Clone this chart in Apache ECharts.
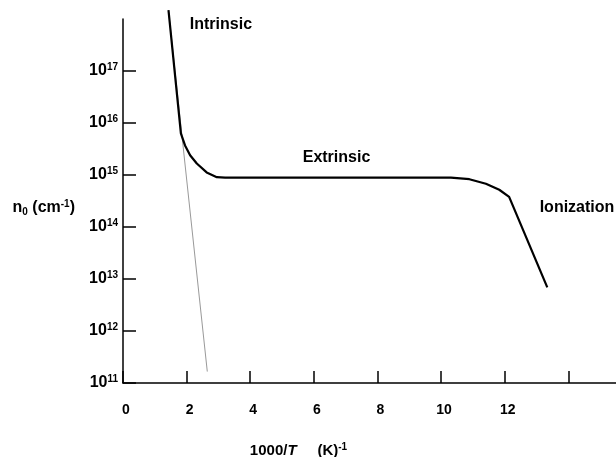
<!DOCTYPE html>
<html>
<head>
<meta charset="utf-8">
<script src="https://cdn.jsdelivr.net/npm/echarts@6/dist/echarts.min.js"></script>
<style>html,body{margin:0;padding:0;background:#fff}#c{width:616px;height:457px}</style>
</head>
<body>
<div id="c"></div>
<script>
// Main curve: 1000/T (K^-1) vs n0 (cm^-3)
const curveX = [1.43, 1.82, 1.95, 2.11, 2.32, 2.63, 2.95, 3.21, 10.31, 10.89, 11.41, 11.83, 12.14, 13.34];
const curveN = [1.48e18, 6.3e15, 3.7e15, 2.4e15, 1.66e15, 1.12e15, 9.1e14, 8.9e14, 8.9e14, 8.3e14, 6.8e14, 5.2e14, 3.8e14, 6.9e12];
// Intrinsic extrapolation (thin grey line)
const intrinsicX = [1.43, 2.65];
const intrinsicN = [1.48e18, 1.66e11];
// Region labels
const regionNames = ['Intrinsic', 'Extrinsic', 'Ionization'];
const regionX = [2.1, 5.65, 13.1];
const regionN = [7.9e17, 2.2e15, 2.4e14];
// Ticks
const xTicks = [0, 2, 4, 6, 8, 10, 12, 14];
const xLabels = [0, 2, 4, 6, 8, 10, 12];
const yExponents = [11, 12, 13, 14, 15, 16, 17];

const FONT = 'Liberation Sans, Arial, sans-serif';
const zip = (a, b) => a.map((v, i) => [v, b[i]]);
const yTickValues = yExponents.map(e => Math.pow(10, e));

const chart = echarts.init(document.getElementById('c'), null, {renderer: 'canvas'});
chart.setOption({
  animation: false,
  backgroundColor: '#fff',
  grid: {left: 123, right: 0, top: 19, bottom: 74, containLabel: false, outerBoundsMode: 'none'},
  xAxis: {
    type: 'value', min: 0, max: 15.5, interval: 2,
    axisLine: {show: true, onZero: false, lineStyle: {color: '#000', width: 1.5}},
    axisTick: {show: true, inside: true, length: 12, customValues: xTicks, lineStyle: {color: '#000', width: 1.5}},
    splitLine: {show: false},
    axisLabel: {
      customValues: xLabels, margin: 20, color: '#000', fontFamily: FONT, fontWeight: 'bold', fontSize: 14,
      padding: [0, 0, 0, 6]
    },
    name: '{n|1000/}{i|T}{n|     (K)}{s|-1}',
    nameLocation: 'middle', nameGap: 59,
    nameTextStyle: {
      padding: [0, 142, 0, 0],
      rich: {
        n: {fontFamily: FONT, fontWeight: 'bold', fontSize: 15, color: '#000', lineHeight: 17},
        i: {fontFamily: FONT, fontWeight: 'bold', fontStyle: 'italic', fontSize: 15, color: '#000', lineHeight: 17},
        s: {fontFamily: FONT, fontWeight: 'bold', fontSize: 10, color: '#000', verticalAlign: 'top', lineHeight: 17}
      }
    }
  },
  yAxis: {
    type: 'log', logBase: 10, min: 1e11, max: 1e18,
    axisLine: {show: true, lineStyle: {color: '#000', width: 1.5}},
    axisTick: {show: true, inside: true, length: 13, customValues: yTickValues, lineStyle: {color: '#000', width: 1.5}},
    splitLine: {show: false},
    axisLabel: {
      customValues: yTickValues, margin: 5,
      formatter: v => '{b|10}{s|' + Math.round(Math.log10(v)) + '}',
      rich: {
        b: {fontFamily: FONT, fontWeight: 'bold', fontSize: 16, color: '#000', lineHeight: 17},
        s: {fontFamily: FONT, fontWeight: 'bold', fontSize: 10, color: '#000', verticalAlign: 'top', lineHeight: 17}
      }
    },
    name: '{n|n}{sub|0}{n| (cm}{sup|-1}{n|)}',
    nameLocation: 'middle', nameRotate: 0, nameGap: 48,
    nameTextStyle: {
      padding: [14, 0, 0, 0],
      rich: {
        n: {fontFamily: FONT, fontWeight: 'bold', fontSize: 16, color: '#000', lineHeight: 18},
        sub: {fontFamily: FONT, fontWeight: 'bold', fontSize: 10, color: '#000', verticalAlign: 'bottom', lineHeight: 18},
        sup: {fontFamily: FONT, fontWeight: 'bold', fontSize: 10, color: '#000', verticalAlign: 'top', lineHeight: 18}
      }
    }
  },
  series: [
    {
      name: 'Intrinsic extrapolation', type: 'line', data: zip(intrinsicX, intrinsicN),
      showSymbol: false, clip: false, z: 1,
      lineStyle: {color: '#999', width: 1}
    },
    {
      name: 'n0', type: 'line', data: zip(curveX, curveN),
      showSymbol: false, clip: false, smooth: false, z: 2,
      lineStyle: {color: '#000', width: 2.2, join: 'round'}
    },
    {
      name: 'Regions', type: 'scatter', data: regionNames.map((n, i) => ({name: n, value: [regionX[i], regionN[i]]})),
      symbolSize: 0, clip: false, silent: true,
      itemStyle: {opacity: 1},
      label: {show: true, position: 'right', distance: 0, formatter: '{b}', color: '#000', opacity: 1,
        fontFamily: FONT, fontWeight: 'bold', fontSize: 16}
    }
  ]
});
</script>
</body>
</html>
